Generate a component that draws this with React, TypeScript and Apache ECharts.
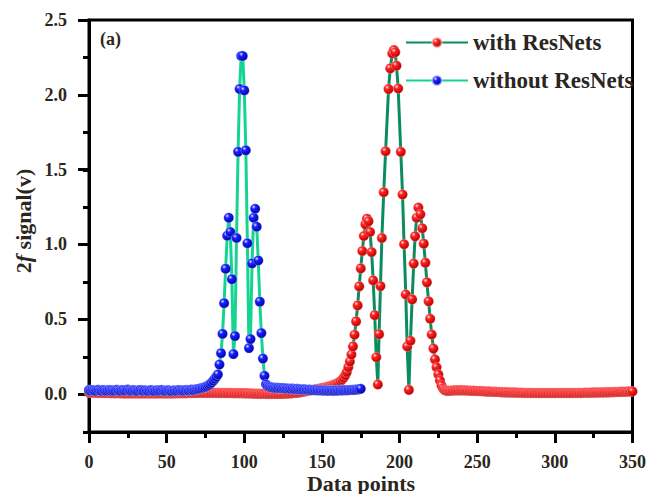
import React, { useEffect, useRef } from "react";
import * as echarts from "echarts";

// ---------- data ----------
// "with ResNets": x = 0..185 uniform
const redLeftY: number[] = [
  0.013, 0.013, 0.012, 0.012, 0.012, 0.011, 0.011, 0.011, 0.011, 0.010,
  0.010, 0.010, 0.010, 0.010, 0.009, 0.009, 0.009, 0.009, 0.009, 0.009,
  0.009, 0.008, 0.008, 0.008, 0.008, 0.008, 0.008, 0.008, 0.008, 0.008,
  0.008, 0.008, 0.008, 0.008, 0.008, 0.008, 0.008, 0.008, 0.008, 0.008,
  0.008, 0.008, 0.008, 0.008, 0.008, 0.008, 0.008, 0.008, 0.008, 0.008,
  0.008, 0.008, 0.008, 0.008, 0.008, 0.008, 0.009, 0.009, 0.009, 0.009,
  0.009, 0.009, 0.009, 0.009, 0.010, 0.010, 0.010, 0.010, 0.010, 0.010,
  0.011, 0.011, 0.011, 0.011, 0.011, 0.011, 0.011, 0.011, 0.011, 0.011,
  0.011, 0.011, 0.011, 0.011, 0.010, 0.010, 0.010, 0.010, 0.010, 0.010,
  0.010, 0.010, 0.010, 0.009, 0.009, 0.009, 0.009, 0.009, 0.009, 0.009,
  0.008, 0.008, 0.008, 0.007, 0.007, 0.007, 0.006, 0.006, 0.006, 0.006,
  0.005, 0.005, 0.005, 0.005, 0.004, 0.004, 0.004, 0.004, 0.004, 0.004,
  0.004, 0.004, 0.004, 0.005, 0.005, 0.005, 0.006, 0.006, 0.007, 0.007,
  0.008, 0.009, 0.010, 0.011, 0.012, 0.013, 0.015, 0.017, 0.019, 0.021,
  0.023, 0.025, 0.027, 0.029, 0.031, 0.033, 0.035, 0.037, 0.039, 0.041,
  0.043, 0.045, 0.047, 0.050, 0.053, 0.056, 0.059, 0.063, 0.067, 0.071,
  0.076, 0.082, 0.090, 0.100, 0.112, 0.128, 0.150, 0.183,
  0.22, 0.267, 0.321, 0.399, 0.488, 0.595, 0.722, 0.842, 0.958, 1.058,
  1.136, 1.174, 1.156, 1.085, 0.951, 0.762, 0.53, 0.249,
];
// "with ResNets": the double-peak region, [x, y]
const redPeak: [number, number][] = [
  [186, 0.067], [186.8, 0.403], [187.7, 0.724], [188.6, 1.045], [189.8, 1.35],
  [191, 1.624], [192.9, 2.039], [194, 2.177], [195.3, 2.277], [196.4, 2.3],
  [197.2, 2.285], [198, 2.195], [199.1, 2.043], [200.8, 1.62], [201.9, 1.335],
  [202.9, 1.003], [204, 0.668], [204.9, 0.321], [206, 0.031], [207, 0.359],
  [208.1, 0.635], [209.1, 0.874], [210, 1.056], [211, 1.18], [212.1, 1.248],
  [213.4, 1.203], [214.6, 1.11], [215.6, 1.007], [216.6, 0.88], [217.6, 0.749],
  [218.7, 0.622], [219.7, 0.506], [220.7, 0.401], [221.8, 0.307], [222.8, 0.234],
  [223.8, 0.182],
];
// "with ResNets": x = 225..350 uniform
const redRightStart = 225;
const redRightY: number[] = [
  0.134, 0.094, 0.06, 0.04, 0.03,
  0.026, 0.025, 0.025, 0.026, 0.027, 0.027, 0.028, 0.028, 0.028, 0.028,
  0.028, 0.028, 0.027, 0.027, 0.027, 0.026, 0.026, 0.025, 0.025, 0.024,
  0.024, 0.023, 0.023, 0.022, 0.022, 0.021, 0.021, 0.020, 0.020, 0.019,
  0.019, 0.018, 0.018, 0.017, 0.017, 0.016, 0.016, 0.015, 0.015, 0.015,
  0.014, 0.014, 0.014, 0.013, 0.013, 0.013, 0.012, 0.012, 0.012, 0.012,
  0.011, 0.011, 0.011, 0.011, 0.011, 0.010, 0.010, 0.010, 0.010, 0.010,
  0.010, 0.010, 0.010, 0.010, 0.010, 0.010, 0.010, 0.010, 0.010, 0.010,
  0.010, 0.010, 0.010, 0.010, 0.010, 0.010, 0.010, 0.010, 0.010, 0.010,
  0.010, 0.010, 0.010, 0.011, 0.011, 0.011, 0.011, 0.011, 0.011, 0.012,
  0.012, 0.012, 0.012, 0.012, 0.013, 0.013, 0.013, 0.013, 0.014, 0.014,
  0.014, 0.014, 0.015, 0.015, 0.015, 0.015, 0.016, 0.016, 0.016, 0.017,
  0.017, 0.017, 0.018, 0.018, 0.018, 0.019, 0.019, 0.020, 0.020, 0.021, 0.021,
];
// "without ResNets": x = 0..175 uniform
const blueY: number[] = [
  0.030, 0.026, 0.031, 0.027, 0.024, 0.029, 0.032, 0.027, 0.025, 0.030,
  0.028, 0.024, 0.027, 0.031, 0.026, 0.029, 0.025, 0.028, 0.032, 0.027,
  0.024, 0.028, 0.030, 0.026, 0.029, 0.033, 0.028, 0.025, 0.027, 0.030,
  0.026, 0.024, 0.028, 0.031, 0.027, 0.025, 0.029, 0.026, 0.024, 0.027,
  0.030, 0.026, 0.023, 0.027, 0.029, 0.025, 0.028, 0.031, 0.026, 0.024,
  0.027, 0.029, 0.025, 0.022, 0.026, 0.028, 0.024, 0.027, 0.030, 0.026,
  0.028, 0.025, 0.029, 0.031, 0.027, 0.030, 0.033, 0.029, 0.032, 0.035,
  0.036, 0.038, 0.041, 0.044, 0.047, 0.051, 0.056, 0.062, 0.070, 0.080,
  0.092, 0.105, 0.118,
  0.134, 0.20, 0.276, 0.405, 0.61, 0.84, 1.06, 1.18, 1.085, 0.77,
  0.27, 0.39, 1.045, 1.62, 2.04, 2.26, 2.26, 2.03, 1.63, 1.01,
  0.31, 0.37, 0.875, 1.18, 1.24, 1.12, 0.895, 0.62, 0.41, 0.24, 0.125,
  0.068, 0.058, 0.052, 0.049, 0.047, 0.046, 0.045, 0.044, 0.045, 0.043,
  0.042, 0.044, 0.041, 0.040, 0.041, 0.039, 0.038, 0.040, 0.037, 0.036,
  0.038, 0.035, 0.036, 0.034, 0.033, 0.035, 0.032, 0.031, 0.033, 0.030,
  0.029, 0.031, 0.028, 0.030, 0.027, 0.029, 0.028, 0.026, 0.028, 0.027,
  0.025, 0.027, 0.026, 0.027, 0.025, 0.028, 0.026, 0.027, 0.029, 0.027,
  0.028, 0.030, 0.028, 0.029, 0.031, 0.030, 0.032, 0.031, 0.033, 0.034,
  0.036, 0.038,
];

const seriesNames = ["with ResNets", "without ResNets"];
const xTicks = { min: 0, max: 350, step: 50 };
const yTicks = { min: -0.25, max: 2.5, step: 0.5 };

const FONT = "'Liberation Serif', 'Times New Roman', serif";
const TXT = "#2b2620";

export default function App() {
  const ref = useRef<HTMLDivElement>(null);
  useEffect(() => {
    if (!ref.current) return;
    const chart = echarts.init(ref.current, undefined, { renderer: "svg" });

    const redData: [number, number][] = [];
    redLeftY.forEach((v, i) => redData.push([i, v]));
    redPeak.forEach((p) => redData.push([p[0], p[1]]));
    redRightY.forEach((v, i) => redData.push([redRightStart + i, v]));
    const blueData: [number, number][] = blueY.map((v, i) => [i, v]);

    const redGrad = new echarts.graphic.RadialGradient(0.35, 0.32, 0.7, [
      { offset: 0, color: "#ffe2e2" },
      { offset: 0.3, color: "#ff2424" },
      { offset: 1, color: "#b40000" },
    ]);
    const blueGrad = new echarts.graphic.RadialGradient(0.35, 0.32, 0.7, [
      { offset: 0, color: "#dfe4ff" },
      { offset: 0.3, color: "#1a22ff" },
      { offset: 1, color: "#0000a8" },
    ]);

    const tickLine = { color: "#000", width: 3 };
    const labelStyle = {
      fontFamily: FONT,
      fontWeight: "bold" as const,
      fontSize: 18,
      color: TXT,
    };

    chart.setOption({
      animation: false,
      backgroundColor: "#fff",
      grid: [
        { left: 89, right: 15, top: 20, bottom: 62, show: true, borderColor: "#000", borderWidth: 3 },
        { left: 89, right: 15, top: 20, bottom: 100, show: false },
      ],
      xAxis: [
        {
          gridIndex: 0,
          type: "value",
          min: xTicks.min,
          max: xTicks.max,
          interval: xTicks.step,
          axisLine: { show: true, onZero: false, lineStyle: tickLine },
          axisTick: { show: true, length: 11, lineStyle: tickLine },
          minorTick: { show: true, splitNumber: 2, length: 6, lineStyle: tickLine },
          axisLabel: { ...labelStyle, margin: 21 },
          splitLine: { show: false },
        },
        { gridIndex: 1, type: "value", min: xTicks.min, max: xTicks.max, show: false },
      ],
      yAxis: [
        {
          gridIndex: 0,
          type: "value",
          min: yTicks.min,
          max: yTicks.max,
          interval: yTicks.step / 2,
          axisLine: { show: true, onZero: false, lineStyle: tickLine },
          axisTick: { show: true, length: 6, lineStyle: tickLine },
          axisLabel: { show: false },
          splitLine: { show: false },
        },
        {
          gridIndex: 1,
          type: "value",
          min: 0,
          max: yTicks.max,
          interval: yTicks.step,
          axisLine: { show: false },
          axisTick: { show: true, length: 11, lineStyle: tickLine },
          axisLabel: { ...labelStyle, margin: 22, formatter: (v: number) => v.toFixed(1) },
          splitLine: { show: false },
        },
      ],
      legend: {
        left: 405,
        top: 31,
        padding: 0,
        orient: "vertical",
        itemWidth: 62,
        itemHeight: 12,
        itemGap: 15,
        data: seriesNames,
        textStyle: { fontFamily: FONT, fontWeight: "bold", fontSize: 23, color: TXT },
      },
      graphic: [
        {
          type: "text",
          x: 100,
          y: 30,
          style: { text: "(a)", fontFamily: FONT, fontWeight: "bold", fontSize: 18, fill: TXT },
        },
        {
          type: "text",
          x: 361,
          y: 483,
          style: {
            text: "Data points",
            fontFamily: FONT,
            fontWeight: "bold",
            fontSize: 22,
            fill: TXT,
            align: "center",
            verticalAlign: "middle",
          },
        },
        {
          type: "text",
          x: 23,
          y: 221,
          rotation: Math.PI / 2,
          style: {
            text: "{a|2}{b|f}{a| signal(v)}",
            align: "center",
            verticalAlign: "middle",
            rich: {
              a: { fontFamily: FONT, fontWeight: "bold", fontSize: 22, fill: TXT, color: TXT },
              b: { fontFamily: FONT, fontWeight: "bold", fontStyle: "italic", fontSize: 22, fill: TXT, color: TXT },
            },
          },
        },
      ],
      series: [
        {
          name: seriesNames[0],
          type: "line",
          xAxisIndex: 0,
          yAxisIndex: 0,
          data: redData,
          symbol: "circle",
          symbolSize: 10,
          showSymbol: true,
          showAllSymbol: true,
          lineStyle: { color: "#0b8c5e", width: 3 },
          itemStyle: { color: redGrad, borderColor: "rgba(255,200,200,0.6)", borderWidth: 0.6 },
          z: 2,
        },
        {
          name: seriesNames[1],
          type: "line",
          xAxisIndex: 0,
          yAxisIndex: 0,
          data: blueData,
          symbol: "circle",
          symbolSize: 10,
          showSymbol: true,
          showAllSymbol: true,
          lineStyle: { color: "#14d492", width: 3 },
          itemStyle: { color: blueGrad, borderColor: "rgba(200,210,255,0.6)", borderWidth: 0.6 },
          z: 3,
        },
      ],
    });
    return () => chart.dispose();
  }, []);
  return (
    <div
      ref={ref}
      style={{ position: "fixed", left: 0, top: 0, width: 649, height: 494, background: "#fff" }}
    />
  );
}
